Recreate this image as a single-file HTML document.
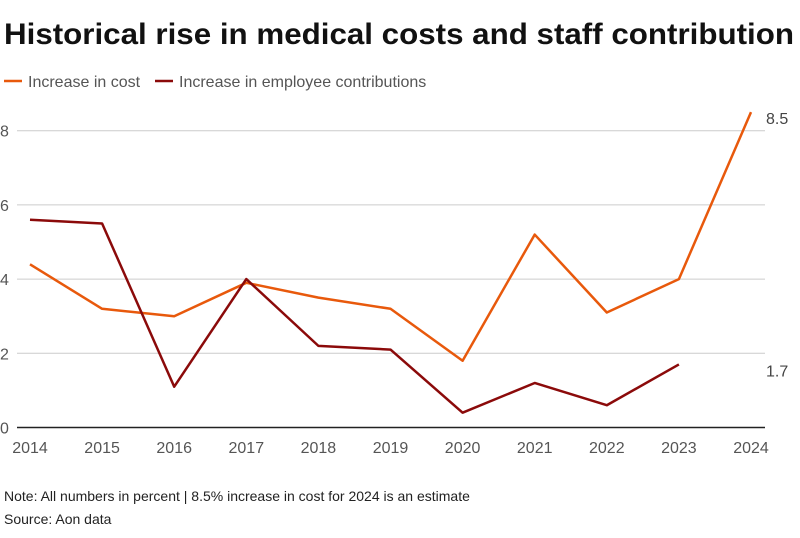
<!DOCTYPE html>
<html><head><meta charset="utf-8"><style>
body{margin:0;background:#fff;width:800px;height:533px;overflow:hidden;font-family:"Liberation Sans",sans-serif}
</style></head><body>
<svg width="800" height="533" xmlns="http://www.w3.org/2000/svg">
<text x="4" y="44" font-size="30" font-weight="bold" fill="#111" textLength="790" lengthAdjust="spacingAndGlyphs">Historical rise in medical costs and staff contribution</text>
<g>
<line x1="4" y1="81" x2="22" y2="81" stroke="#e8590c" stroke-width="2.5"/>
<text x="28" y="87" font-size="16" fill="#555">Increase in cost</text>
<line x1="155" y1="81" x2="173" y2="81" stroke="#8b0a0a" stroke-width="2.5"/>
<text x="179" y="87" font-size="16" fill="#555">Increase in employee contributions</text>
</g>
<g id="grid"></g><g id="xt"></g><g id="lines"></g>
<text x="4" y="501" font-size="14" fill="#222">Note: All numbers in percent | 8.5% increase in cost for 2024 is an estimate</text>
<text x="4" y="524" font-size="14" fill="#222">Source: Aon data</text>
</svg>
<script>
const years=[2014,2015,2016,2017,2018,2019,2020,2021,2022,2023,2024];
const cost=[4.4,3.2,3.0,3.9,3.5,3.2,1.8,5.2,3.1,4.0,8.5];
const employee=[5.6,5.5,1.1,4.0,2.2,2.1,0.4,1.2,0.6,1.7];
const yTicks=[0,2,4,6,8];
const NS="http://www.w3.org/2000/svg";
const x=i=>30+72.1*i, y=v=>427.5-37.1*v;
function mk(t,a,p){const e=document.createElementNS(NS,t);for(const k in a)e.setAttribute(k,a[k]);p.appendChild(e);return e;}
const g=document.getElementById('grid');
yTicks.forEach(v=>{
 const l=mk('line',{x1:17,x2:765,y1:y(v),y2:y(v),stroke:v===0?'#222':'#ccc','stroke-width':v===0?1.5:1},g);
 
 
 const t=mk('text',{x:0,y:y(v)+6,'font-size':16,fill:'#555'},g);t.textContent=v;
 
 
});
const xt=document.getElementById('xt');
years.forEach((yr,i)=>{
 const t=mk('text',{x:x(i),y:453,'font-size':16,fill:'#555','text-anchor':'middle'},xt);t.textContent=yr;
 
 
});
const L=document.getElementById('lines');
function series(arr,col,name){
 const p=mk('polyline',{points:arr.map((v,i)=>x(i)+','+y(v)).join(' '),fill:'none',stroke:col,'stroke-width':2.5,'stroke-linejoin':'round'},L);
 
 
 const n=arr.length-1;
 const t=mk('text',{x:766,y:y(arr[n])+12,'font-size':16,fill:'#444'},L);t.textContent=arr[n];
 
 
}
series(cost,'#e8590c','cost-line');
series(employee,'#8b0a0a','employee-line');
</script>
</body></html>
